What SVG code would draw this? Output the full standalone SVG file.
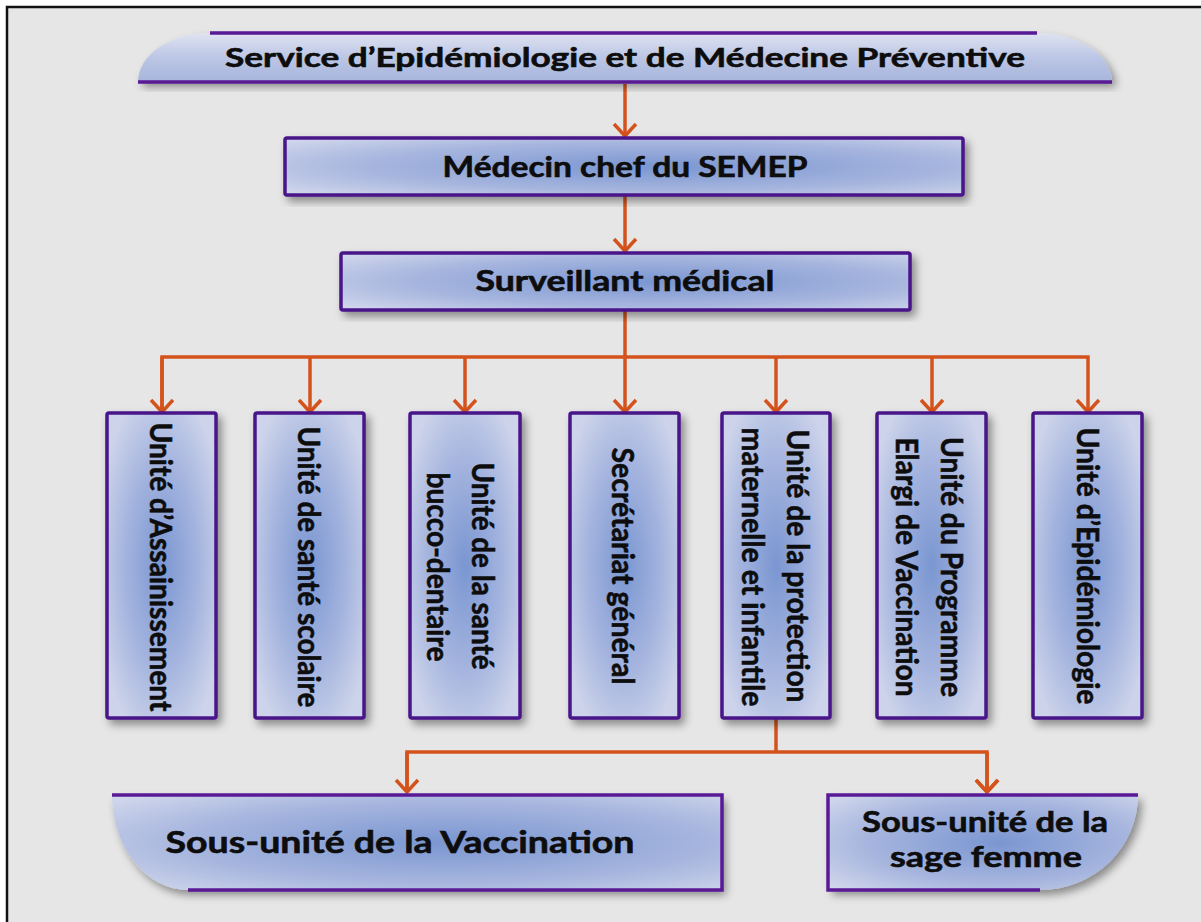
<svg xmlns="http://www.w3.org/2000/svg" width="1201" height="922" viewBox="0 0 1201 922">
<style>
.box{fill:url(#boxg);stroke:#4a168a;stroke-width:3.5;filter:url(#sh)}
.edge{fill:none;stroke:#5a1a96;stroke-width:3.5}
.conn{fill:none;stroke:#d4531c;stroke-width:3.5;stroke-linejoin:miter}
.t{font-family:Lato,"Open Sans","Liberation Sans",sans-serif;font-weight:bold;fill:#0d0d0d;stroke:#0d0d0d;stroke-width:0.6;text-anchor:middle}
.vt{font-size:31px}
</style>
<defs>
<radialGradient id="boxg" cx="0.5" cy="0.5" r="0.6">
<stop offset="0" stop-color="#7a96d1"/>
<stop offset="0.55" stop-color="#a3b3de"/>
<stop offset="1" stop-color="#ccd3ea"/>
</radialGradient>
<radialGradient id="boxh" cx="0.55" cy="0.5" r="0.7">
<stop offset="0" stop-color="#7a96d1"/>
<stop offset="0.6" stop-color="#a6b5de"/>
<stop offset="1" stop-color="#cfd5eb"/>
</radialGradient>
<linearGradient id="bang" x1="0" y1="0" x2="0" y2="1">
<stop offset="0" stop-color="#dfe3f1"/>
<stop offset="0.5" stop-color="#bcc6e5"/>
<stop offset="1" stop-color="#a7b5dc"/>
</linearGradient>
<filter id="sh" x="-10%" y="-10%" width="130%" height="130%">
<feDropShadow dx="4" dy="5" stdDeviation="4" flood-color="#000" flood-opacity="0.4"/>
</filter>
<marker id="ah" viewBox="-2 -13 16 26" refX="12" refY="0" markerWidth="16" markerHeight="26" markerUnits="userSpaceOnUse" orient="auto">
<path d="M0,-11 L12,0 L0,11" fill="none" stroke="#d4531c" stroke-width="3.5"/>
</marker>
</defs>
<rect x="0" y="0" width="1201" height="922" fill="#ffffff"/>
<rect x="7" y="7" width="1300" height="1000" fill="#e6e6e6" stroke="#111" stroke-width="2.5"/>

<g id="connectors">
<path class="conn" d="M625,84 V136" marker-end="url(#ah)"/>
<path class="conn" d="M625,196 V251" marker-end="url(#ah)"/>
<path class="conn" d="M625,310 V357"/>
<path class="conn" d="M162,412 V357 H1088 V412" marker-end="url(#ah)"/>
<path class="conn" d="M162,357 V412" marker-end="url(#ah)"/>
<path class="conn" d="M310,357 V412" marker-end="url(#ah)"/>
<path class="conn" d="M465,357 V412" marker-end="url(#ah)"/>
<path class="conn" d="M625,357 V412" marker-end="url(#ah)"/>
<path class="conn" d="M776,357 V412" marker-end="url(#ah)"/>
<path class="conn" d="M932,357 V412" marker-end="url(#ah)"/>
<path class="conn" d="M776,718 V752"/>
<path class="conn" d="M407,792 V752 H987 V792" marker-end="url(#ah)"/>
<path class="conn" d="M987,752 V792" marker-end="url(#ah)"/>
<path class="conn" d="M407,752 V792" marker-end="url(#ah)"/>
</g>

<g id="banner">
<path d="M138,82 A72,49 0 0 1 210,33 L1037,33 A75,49 0 0 1 1112,82 Z" fill="url(#bang)" filter="url(#sh)"/>
<path class="edge" d="M210,33 H1037 M138,82 H1112" stroke-width="4"/>
<text class="t" x="625" y="67" font-size="27" textLength="800" lengthAdjust="spacingAndGlyphs">Service d’Epidémiologie et de Médecine Préventive</text>
</g>

<g id="medecin">
<rect class="box" x="285" y="138" width="678" height="57" rx="2" style="fill:url(#boxh)"/>
<text class="t" x="625" y="177" font-size="28" textLength="365" lengthAdjust="spacingAndGlyphs">Médecin chef du SEMEP</text>
</g>

<g id="surveillant">
<rect class="box" x="341" y="253" width="569" height="57" rx="2" style="fill:url(#boxh)"/>
<text class="t" x="625" y="291" font-size="28" textLength="299" lengthAdjust="spacingAndGlyphs">Surveillant médical</text>
</g>

<g id="u1">
<rect class="box" x="107" y="413" width="109" height="305" rx="2"/>
<text class="t vt" transform="translate(161,567) rotate(90)" y="11" textLength="289" lengthAdjust="spacingAndGlyphs">Unité d’Assainissement</text>
</g>
<g id="u2">
<rect class="box" x="255" y="413" width="109" height="305" rx="2"/>
<text class="t vt" transform="translate(309,567) rotate(90)" y="11" textLength="281" lengthAdjust="spacingAndGlyphs">Unité de santé scolaire</text>
</g>
<g id="u3">
<rect class="box" x="410" y="413" width="110" height="305" rx="2"/>
<text class="t vt" transform="translate(483,566) rotate(90)" y="11" textLength="207" lengthAdjust="spacingAndGlyphs">Unité de la santé</text>
<text class="t vt" transform="translate(438,567) rotate(90)" y="11" textLength="189" lengthAdjust="spacingAndGlyphs">bucco-dentaire</text>
</g>
<g id="u4">
<rect class="box" x="570" y="413" width="109" height="305" rx="2"/>
<text class="t vt" transform="translate(623,566) rotate(90)" y="11" textLength="237" lengthAdjust="spacingAndGlyphs">Secrétariat général</text>
</g>
<g id="u5">
<rect class="box" x="722" y="413" width="108" height="305" rx="2"/>
<text class="t vt" transform="translate(798,566) rotate(90)" y="11" textLength="273" lengthAdjust="spacingAndGlyphs">Unité de la protection</text>
<text class="t vt" transform="translate(753,567) rotate(90)" y="11" textLength="279" lengthAdjust="spacingAndGlyphs">maternelle et infantile</text>
</g>
<g id="u6">
<rect class="box" x="877" y="413" width="109" height="305" rx="2"/>
<text class="t vt" transform="translate(952,567) rotate(90)" y="11" textLength="260" lengthAdjust="spacingAndGlyphs">Unité du Programme</text>
<text class="t vt" transform="translate(907,567) rotate(90)" y="11" textLength="259" lengthAdjust="spacingAndGlyphs">Elargi de Vaccination</text>
</g>
<g id="u7">
<rect class="box" x="1033" y="413" width="109" height="305" rx="2"/>
<text class="t vt" transform="translate(1088,566) rotate(90)" y="11" textLength="277" lengthAdjust="spacingAndGlyphs">Unité d’Epidémiologie</text>
</g>

<g id="vaccination">
<path d="M112,795 H722 V890 H188 A76,95 0 0 1 112,795 Z" fill="url(#boxh)" filter="url(#sh)"/>
<path class="edge" d="M112,795 H722 V890 H188"/>
<text class="t" x="400" y="853" font-size="30" textLength="469" lengthAdjust="spacingAndGlyphs">Sous-unité de la Vaccination</text>
</g>

<g id="sagefemme">
<path d="M828,795 H1138 A98,95 0 0 1 1040,890 H828 Z" fill="url(#boxh)" filter="url(#sh)"/>
<path class="edge" d="M1138,795 H828 V890 H1040"/>
<text class="t" x="985" y="832" font-size="28" textLength="246" lengthAdjust="spacingAndGlyphs">Sous-unité de la</text>
<text class="t" x="986" y="867" font-size="28" textLength="192" lengthAdjust="spacingAndGlyphs">sage femme</text>
</g>
</svg>
